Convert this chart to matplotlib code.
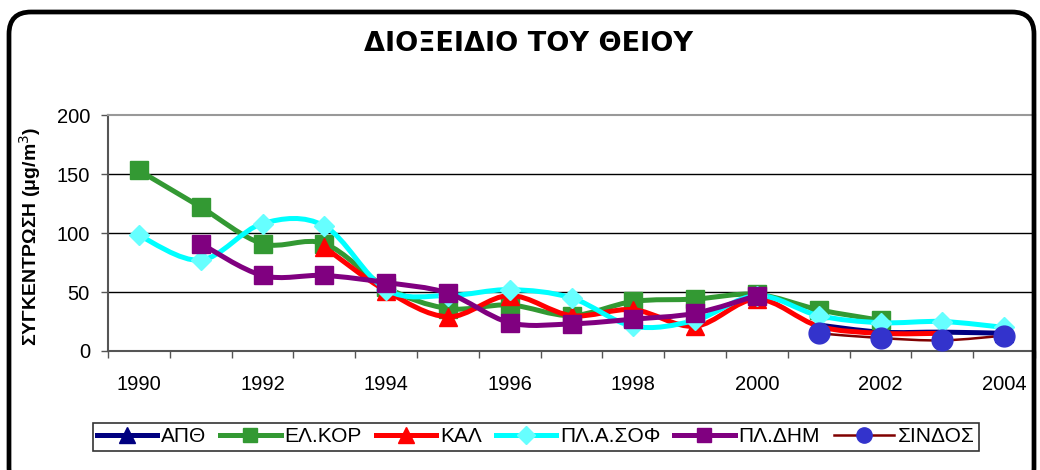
import numpy as np
import matplotlib
matplotlib.use("Agg")
import matplotlib.pyplot as plt
from matplotlib.path import Path
from matplotlib.patches import PathPatch, FancyBboxPatch
from matplotlib.lines import Line2D
from matplotlib.transforms import IdentityTransform

nan = np.nan
years = list(range(1990, 2005))
x_tick_labels = [str(y) for y in range(1990, 2005, 2)]
y_ticks = [0, 50, 100, 150, 200]

series_names = ["ΑΠΘ", "ΕΛ.ΚΟΡ", "ΚΑΛ", "ΠΛ.Α.ΣΟΦ", "ΠΛ.ΔΗΜ", "ΣΙΝΔΟΣ"]
apth = [nan, nan, nan, nan, nan, nan, nan, nan, nan, nan, nan, 22, 16, 16, 15]
elkor = [153, 122, 91, 91, 54, 36, 39, 30, 42, 44, 48, 35, 26, nan, nan]
kal = [nan, nan, nan, 88, 51, 29, 47, 30, 35, 21, 44, 21, 15, 15, nan]
plasof = [98, 77, 108, 106, 52, 47, 52, 45, 21, 26, 47, 30, 24, 25, 20]
pldim = [nan, 91, 64, 64, 58, 49, 24, 23, 27, 32, 47, nan, nan, nan, nan]
sindos = [nan, nan, nan, nan, nan, nan, nan, nan, nan, nan, nan, 15, 11, 9, 13]

styles = [
    dict(line="#000080", mk="^", mc="#000080", lw=3.6, ms=13, lms=11),
    dict(line="#339933", mk="s", mc="#339933", lw=3.6, ms=13, lms=10),
    dict(line="#FF0000", mk="^", mc="#FF0000", lw=3.6, ms=13, lms=11),
    dict(line="#00FFFF", mk="D", mc="#66FFFF", lw=3.6, ms=10.5, lms=9),
    dict(line="#800080", mk="s", mc="#800080", lw=3.6, ms=13, lms=10),
    dict(line="#800000", mk="o", mc="#3333CC", lw=1.8, ms=15, lms=11),
]
all_series = [apth, elkor, kal, plasof, pldim, sindos]

plt.rcParams['font.family'] = ['Liberation Sans', 'DejaVu Sans']

fig = plt.figure(figsize=(10.4, 4.7), dpi=100)
fig.patch.set_facecolor("white")

# outer rounded border
border = FancyBboxPatch((9, -20), 1025, 478, boxstyle="round,pad=0,rounding_size=22",
                        transform=IdentityTransform(), facecolor="none",
                        edgecolor="black", linewidth=3.4, zorder=0)
fig.patches.append(border)

ax = fig.add_axes([108/1040, 1-351/470, 927/1040, (351-115)/470])
ax.set_xlim(1989.5, 2004.5)
ax.set_ylim(0, 200)


def smooth_path(xs, ys):
    verts = [(xs[0], ys[0])]
    codes = [Path.MOVETO]
    n = len(xs)
    for i in range(n - 1):
        p0 = np.array([xs[max(i-1, 0)], ys[max(i-1, 0)]])
        p1 = np.array([xs[i], ys[i]])
        p2 = np.array([xs[i+1], ys[i+1]])
        p3 = np.array([xs[min(i+2, n-1)], ys[min(i+2, n-1)]])
        c1 = p1 + (p2 - p0) / 6.0
        c2 = p2 - (p3 - p1) / 6.0
        verts += [tuple(c1), tuple(c2), tuple(p2)]
        codes += [Path.CURVE4] * 3
    return Path(verts, codes)


handles = []
for k, (vals, st) in enumerate(zip(all_series, styles)):
    arr = np.array(vals, dtype=float)
    yrs = np.array(years, dtype=float)
    m = ~np.isnan(arr)
    xs, ys = yrs[m], arr[m]
    z = 3 + k
    if len(xs) > 1:
        patch = PathPatch(smooth_path(xs, ys), facecolor="none", edgecolor=st["line"],
                          linewidth=st["lw"], zorder=z, capstyle="round", joinstyle="round")
        ax.add_patch(patch)
    ax.plot(xs, ys, linestyle="none", marker=st["mk"], markersize=st["ms"],
            markerfacecolor=st["mc"], markeredgecolor=st["mc"], zorder=z + 0.5, clip_on=False)
    handles.append(Line2D([], [], color=st["line"], linewidth=st["lw"], marker=st["mk"],
                          markersize=st["lms"], markerfacecolor=st["mc"],
                          markeredgecolor=st["mc"]))

# grid
for yv in [50, 100, 150]:
    ax.axhline(yv, color="black", linewidth=1.0, zorder=1)

ax.set_yticks(y_ticks)
ax.set_yticklabels([str(v) for v in y_ticks], fontsize=14.5)
ax.set_xticks(np.arange(1989.5, 2005, 1.0))
ax.set_xticklabels([])
ax.set_xticks(list(range(1990, 2005, 2)), minor=True)
ax.set_xticklabels(x_tick_labels, minor=True, fontsize=14.5)
ax.tick_params(axis="x", which="major", direction="out", length=5, width=1, color="#555555")
ax.tick_params(axis="x", which="minor", length=0, pad=17)
ax.tick_params(axis="y", direction="out", length=5, width=1, color="#555555", pad=8)

for s in ["left", "bottom"]:
    ax.spines[s].set_color("#555555")
    ax.spines[s].set_linewidth(1.5)
for s in ["top", "right"]:
    ax.spines[s].set_color("#999999")
    ax.spines[s].set_linewidth(1.5)

fig.text(529/1040, 1-44/470, "ΔΙΟΞΕΙΔΙΟ ΤΟΥ ΘΕΙΟΥ", ha="center", va="center",
         fontsize=19.5, fontweight="bold", family=["DejaVu Sans"])
fig.text(30/1040, 1-236/470, "ΣΥΓΚΕΝΤΡΩΣΗ (μg/m$^3$)", ha="center", va="center",
         rotation=90, fontsize=14, fontweight="bold")

leg = fig.legend(handles, series_names, loc="center", bbox_to_anchor=(536/1040, 1-437/470),
                 ncol=6, fontsize=15, frameon=True, fancybox=False, handlelength=2.9,
                 handletextpad=0.2, columnspacing=0.65, borderpad=0.2, borderaxespad=0)
leg.get_frame().set_edgecolor("black")
leg.get_frame().set_linewidth(1.2)

fig.savefig("out.png", dpi=100)
